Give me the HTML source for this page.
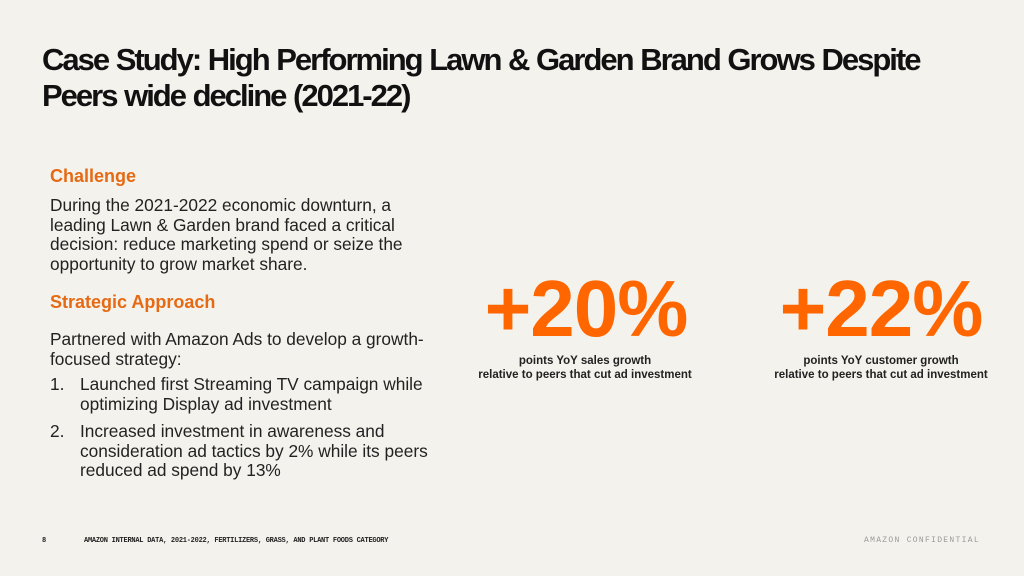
<!DOCTYPE html>
<html><head><meta charset="utf-8"><style>
body{margin:0;width:1024px;height:576px;background:#f3f2ed;font-family:"Liberation Sans","DejaVu Sans",sans-serif;color:#222;position:relative;overflow:hidden}
.a{position:absolute;margin:0}
h1{position:absolute;left:42px;top:42px;margin:0;font-size:31px;line-height:36px;font-weight:bold;letter-spacing:-2px;color:#111;word-spacing:1px}
.h{color:#e66a14;font-weight:bold;font-size:18px}
.p{font-size:17.3px;line-height:19.5px;color:#222}
.big{color:#ff6600;font-weight:bold;font-size:80px;line-height:80px;text-align:center;width:300px;letter-spacing:-1px}
.cap{font-size:11.5px;font-weight:bold;text-align:center;width:300px;line-height:14px;color:#222}
</style></head><body>
<h1>Case Study: High Performing Lawn &amp; Garden Brand Grows Despite<br>Peers wide decline (2021-22)</h1>
<div class="a h" style="left:50px;top:166px">Challenge</div>
<div class="a p" style="left:50px;top:196px;width:400px">During the 2021-2022 economic downturn, a leading Lawn &amp; Garden brand faced a critical decision: reduce marketing spend or seize the opportunity to grow market share.</div>
<div class="a h" style="left:50px;top:292px">Strategic Approach</div>
<div class="a p" style="left:50px;top:330px;width:400px">Partnered with Amazon Ads to develop a growth-focused strategy:</div>
<div class="a p" style="left:50px;top:375px;width:400px"><span style="position:absolute;left:0">1.</span><div style="margin-left:30px">Launched first Streaming TV campaign while optimizing Display ad investment</div></div>
<div class="a p" style="left:50px;top:422px;width:410px"><span style="position:absolute;left:0">2.</span><div style="margin-left:30px">Increased investment in awareness and consideration ad tactics by 2% while its peers reduced ad spend by 13%</div></div>
<div class="a big" style="left:436px;top:269px">+20%</div>
<div class="a cap" style="left:435px;top:354px">points YoY sales growth<br>relative to peers that cut ad investment</div>
<div class="a big" style="left:731px;top:269px">+22%</div>
<div class="a cap" style="left:731px;top:354px">points YoY customer growth<br>relative to peers that cut ad investment</div>
<div class="a" style="left:42px;top:537px;font-size:7px;font-family:'Liberation Mono',monospace;font-weight:bold">8</div>
<div class="a" style="left:84px;top:537px;font-size:7px;font-family:'Liberation Mono',monospace;font-weight:bold;letter-spacing:-0.25px">AMAZON INTERNAL DATA, 2021-2022, FERTILIZERS, GRASS, AND PLANT FOODS CATEGORY</div>
<div class="a" style="left:864px;top:536px;font-size:8px;font-family:'Liberation Mono',monospace;color:#999;letter-spacing:1.3px">AMAZON CONFIDENTIAL</div>
</body></html>
